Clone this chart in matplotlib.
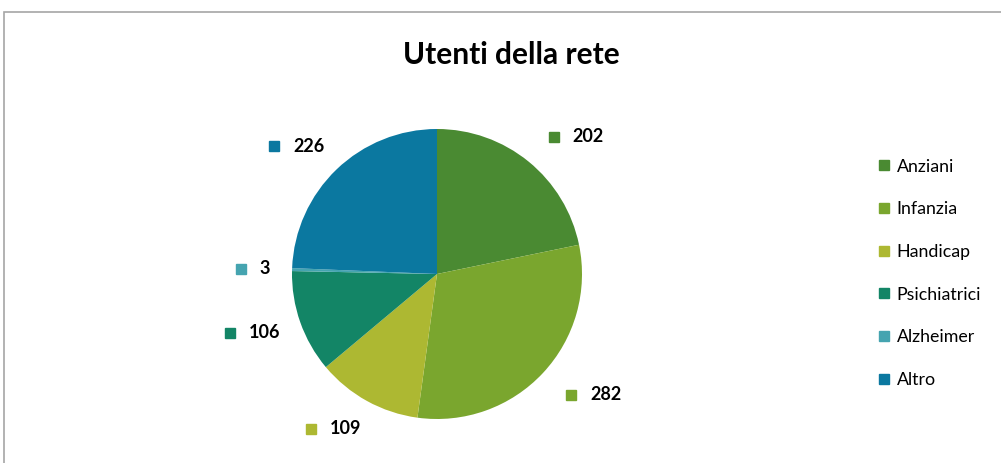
import numpy as np
import matplotlib.pyplot as plt
from matplotlib.patches import Rectangle
from matplotlib.lines import Line2D

plt.rcParams['font.family'] = ['Lato', 'DejaVu Sans']

categorie = ["Anziani", "Infanzia", "Handicap", "Psichiatrici", "Alzheimer", "Altro"]
utenti = [202, 282, 109, 106, 3, 226]
colori = ["#4a8a32", "#7aa62e", "#adb832", "#138566", "#45a4b0", "#0b78a0"]

fig = plt.figure(figsize=(10.01, 4.63), dpi=100)
ax = fig.add_axes([0, 0, 1, 1])

# cornice grigia del grafico
ax.add_patch(Rectangle((4, -20), 1100, 471, fill=False, edgecolor="#a6a6a6", lw=1.2))

cx, cy, r = 437, 189, 145
wedges, _ = ax.pie(utenti, colors=colori, startangle=90, counterclock=False,
                   center=(cx, cy), radius=r, frame=True)
ax.set_xlim(0, 1001)
ax.set_ylim(0, 463)
ax.set_aspect("equal")
ax.axis("off")

ax.text(511, 408, "Utenti della rete", fontsize=21.5, fontweight="bold", ha="center", va="center")

# etichette dati con quadratino colorato (stile Excel "estremo esterno")
fig.canvas.draw()
renderer = fig.canvas.get_renderer()
for w, v, c in zip(wedges, utenti, colori):
    ang = np.deg2rad((w.theta1 + w.theta2) / 2)
    ax_x = cx + (r + 32) * np.cos(ang)
    ax_y = cy + (r + 32) * np.sin(ang)
    if np.cos(ang) >= 0:
        ax.plot(ax_x + 5, ax_y, marker="s", ms=7.5, color=c, ls="none")
        ax.text(ax_x + 24, ax_y, str(v), fontsize=13, fontweight="bold", ha="left", va="center")
    else:
        t = ax.text(ax_x + 10, ax_y, str(v), fontsize=13, fontweight="bold", ha="right", va="center")
        tw = t.get_window_extent(renderer).width
        ax.plot(ax_x + 10 - tw - 14 - 5, ax_y, marker="s", ms=7.5, color=c, ls="none")

handles = [Line2D([], [], marker="s", ms=7.5, color=c, ls="none") for c in colori]
ax.legend(handles, categorie, loc="center left", bbox_to_anchor=(0.869, 0.41), frameon=False,
          fontsize=12.8, handlelength=0.6, handletextpad=0.4, labelspacing=1.5, borderpad=0)

fig.savefig("out.png", dpi=100)
